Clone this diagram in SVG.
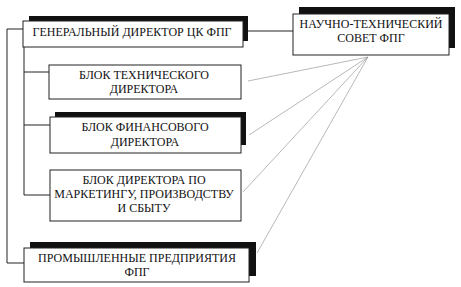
<svg xmlns="http://www.w3.org/2000/svg" width="461" height="287" viewBox="0 0 461 287">
<style>
.box{fill:#fff;stroke:#222;stroke-width:1}
.sh{fill:#111}
.t{font-family:"Liberation Serif","Times New Roman",serif;font-size:12px;fill:#111;text-anchor:middle}
.c{fill:none;stroke:#222;stroke-width:1}
.g{fill:none;stroke:#999;stroke-width:0.7}
</style>
<rect width="461" height="287" fill="#fff"/>
<g id="connectors">
<polyline class="c" points="23,29 7,29 7,263 24,263"/>
<polyline class="c" points="24,47 24,195 50,195"/>
<line class="c" x1="24" y1="72" x2="49" y2="72"/>
<line class="c" x1="24" y1="125" x2="50" y2="125"/>
<line class="c" x1="243" y1="31" x2="293" y2="31"/>
<line class="g" x1="368" y1="57" x2="248" y2="81"/>
<line class="g" x1="368" y1="57" x2="249" y2="135"/>
<line class="g" x1="368" y1="57" x2="243" y2="192"/>
<line class="g" x1="368" y1="57" x2="257" y2="253"/>
</g>
<g id="general">
<rect class="sh" x="29" y="16" width="219" height="25"/>
<rect class="box" x="23" y="21" width="220" height="26"/>
<text class="t" x="132" y="36">ГЕНЕРАЛЬНЫЙ ДИРЕКТОР ЦК ФПГ</text>
</g>
<g id="council">
<rect class="sh" x="299" y="7" width="156" height="41"/>
<rect class="box" x="293" y="14" width="156" height="41"/>
<text class="t" x="371" y="28">НАУЧНО-ТЕХНИЧЕСКИЙ</text>
<text class="t" x="371" y="42">СОВЕТ ФПГ</text>
</g>
<g id="tech">
<rect class="box" x="49" y="65" width="192" height="34"/>
<text class="t" x="144" y="79">БЛОК ТЕХНИЧЕСКОГО</text>
<text class="t" x="144" y="93">ДИРЕКТОРА</text>
</g>
<g id="fin">
<rect class="sh" x="55" y="112" width="191" height="33"/>
<rect class="box" x="50" y="117" width="191" height="36"/>
<text class="t" x="145" y="131">БЛОК ФИНАНСОВОГО</text>
<text class="t" x="145" y="146">ДИРЕКТОРА</text>
</g>
<g id="market">
<rect class="box" x="50" y="170" width="191" height="51"/>
<text class="t" x="144" y="184">БЛОК ДИРЕКТОРА ПО</text>
<text class="t" x="144" y="198">МАРКЕТИНГУ, ПРОИЗВОДСТВУ</text>
<text class="t" x="144" y="212">И СБЫТУ</text>
</g>
<g id="industry">
<rect class="sh" x="30" y="242" width="226" height="34"/>
<rect class="box" x="24" y="248" width="225" height="34"/>
<text class="t" x="137" y="262">ПРОМЫШЛЕННЫЕ ПРЕДПРИЯТИЯ</text>
<text class="t" x="137" y="276">ФПГ</text>
</g>
</svg>
